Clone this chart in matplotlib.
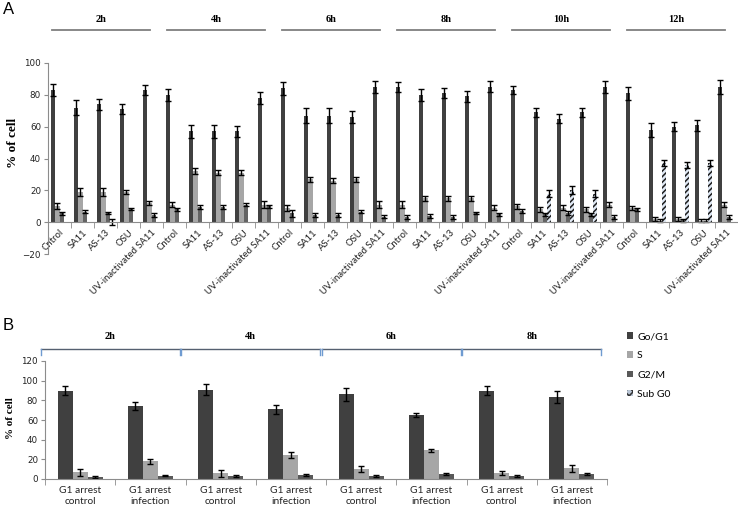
import matplotlib
matplotlib.use('Agg')
import matplotlib.pyplot as plt
from matplotlib.patches import Patch
from matplotlib.lines import Line2D
import numpy as np

# ---- panel A data ----
times_a = ['2h', '4h', '6h', '8h', '10h', '12h']
treatments = ['Cntrol', 'SA11', 'AS-13', 'OSU', 'UV-inactivated SA11']

g0_a = [83, 72, 74, 71, 83,
        80, 57, 57, 57, 78,
        84, 67, 67, 66, 85,
        85, 80, 81, 79, 85,
        83, 69, 65, 69, 85,
        81, 58, 60, 61, 85]
g0_a_err = [3.5, 4.5, 3.5, 3.3, 3,
            3.6, 4.2, 4.2, 3.5, 3.8,
            3.8, 4.5, 4.5, 4, 4,
            3.2, 3.8, 3, 3.5, 3.4,
            2.5, 3, 3, 3, 3.8,
            4, 4.5, 3, 3.5, 4.2]
s_a = [10, 19, 19, 19, 12,
       11, 32, 31, 31, 11,
       9, 27, 26, 27, 11,
       11, 15, 15, 15, 9,
       10, 8, 9, 8, 11,
       9, 2, 2, 1, 11]
s_a_err = [1.8, 2.5, 2.5, 1.5, 1.5,
           1.5, 2, 1.5, 1.5, 2,
           2, 1.5, 1.5, 1.5, 2,
           2, 1.5, 1.5, 1.5, 1.5,
           1.5, 1.5, 1.5, 1.5, 1.5,
           1.2, 1.5, 1, 1, 1.5]
g2m_a = [5.5, 6.5, 5.5, 8, 4.5,
         8, 9.5, 9.5, 11, 10,
         5.5, 4.5, 4.5, 6.5, 3.5,
         3.5, 3.8, 3.5, 5.8, 5,
         7, 5, 6, 5, 3.5,
         8, 1, 1.2, 1, 3.5]
g2m_a_err = [1, 1, 0.6, 0.6, 1.2,
             1, 1, 1.3, 0.8, 1,
             2, 1, 1, 1, 1,
             1.2, 1.2, 1.2, 0.8, 1,
             1, 1, 1.2, 1, 1.2,
             1, 0.8, 0.8, 0.8, 1.2]
subg0_a = [0, 0, 0, 0, 0,
           0, 0, 0, 0, 0,
           0, 0, 0, 0, 0,
           0, 0, 0, 0, 0,
           0, 18, 20, 18, 0,
           0, 37, 36, 37, 0]
subg0_a_err = [0, 0, 1.8, 0, 0,
               0, 0, 0, 0, 0,
               0, 0, 0, 0, 0,
               0, 0, 0, 0, 0,
               0, 2, 2.5, 2, 0,
               0, 2, 2, 2, 0]

# ---- panel B data ----
times_b = ['2h', '4h', '6h', '8h']
conditions_b = ['G1 arrest\ncontrol', 'G1 arrest\ninfection']
g0_b = [90, 74, 91, 71, 86, 65, 90, 83]
g0_b_err = [4.5, 4, 6, 4.5, 7, 2, 5, 6]
s_b = [7, 18, 6, 24, 10, 29, 6, 11]
s_b_err = [3.5, 2.5, 3.5, 3, 3, 2, 2, 3.5]
g2m_b = [2, 3.5, 3, 4, 3, 5, 3, 5]
g2m_b_err = [0.8, 0.8, 0.8, 1.2, 0.8, 1, 1, 1.2]

phase_labels = ['Go/G1', 'S', 'G2/M', 'Sub G0']
c_g0 = '#404040'
c_s = '#a6a6a6'
c_g2m_a = '#636363'
c_g2m_b = '#595959'
c_sub = '#dfe8f4'
axis_col = '#8c8c8c'

plt.rcParams['hatch.linewidth'] = 1.1
fig = plt.figure(figsize=(7.38, 5.08), dpi=100)


def add_bars(ax, x, vals, errs, color, hatch=None):
    vals = np.array(vals, dtype=float)
    errs = np.array(errs, dtype=float)
    if hatch:
        ax.bar(x, vals, width=bw, color=color, hatch=hatch, edgecolor='#1e1e1e', linewidth=0)
    else:
        ax.bar(x, vals, width=bw, color=color, linewidth=0)
    m = errs > 0
    ax.errorbar(x[m], vals[m], yerr=errs[m], fmt='none', ecolor='black',
                elinewidth=1, capsize=2.2, capthick=1)


def style_axis(ax):
    for sp in ['top', 'right']:
        ax.spines[sp].set_visible(False)
    ax.spines['left'].set_color(axis_col)
    ax.spines['bottom'].set_color(axis_col)
    ax.tick_params(axis='y', length=3, color=axis_col, labelsize=6.3, pad=2,
                   labelcolor='#222222')
    ax.tick_params(axis='x', which='major', length=0)
    ax.tick_params(axis='x', which='minor', length=4, color=axis_col)
    for t in ax.get_yticklabels():
        t.set_fontfamily('DejaVu Sans')


# ================= panel A =================
axA = fig.add_axes([48 / 738, 1 - 254 / 508, 690 / 738, 191 / 508])
xa = np.arange(len(g0_a))
bw = 0.19
add_bars(axA, xa - 1.5 * bw, g0_a, g0_a_err, c_g0)
add_bars(axA, xa - 0.5 * bw, s_a, s_a_err, c_s)
add_bars(axA, xa + 0.5 * bw, g2m_a, g2m_a_err, c_g2m_a)
add_bars(axA, xa + 1.5 * bw, subg0_a, subg0_a_err, c_sub, hatch='//////')
axA.set_xlim(-0.5, len(g0_a) - 0.5)
axA.set_ylim(-20, 100)
axA.set_yticks(np.arange(-20, 101, 20))
axA.spines['bottom'].set_position(('data', 0))
axA.set_xticks(xa)
axA.set_xticklabels(treatments * len(times_a), rotation=45, ha='right', va='top',
                    rotation_mode='anchor', fontsize=6.8, family='Lato', color='#222222')
axA.set_xticks(np.arange(-0.5, len(g0_a), 1), minor=True)
style_axis(axA)
axA.tick_params(axis='x', which='major', pad=4)
axA.set_ylabel('% of cell', family='Liberation Serif', fontweight='bold', fontsize=9.5)
axA.yaxis.set_label_coords(-29 / 690, 0.58)

for i, t in enumerate(times_a):
    x0 = 5 * i - 0.33
    x1 = 5 * i + 3.93
    axA.add_line(Line2D([x0, x1], [1.175, 1.175], color='#7f7f7f', lw=1.3,
                        transform=axA.get_xaxis_transform(), clip_on=False))
    axA.text((x0 + x1) / 2, 1.205, t, transform=axA.get_xaxis_transform(),
             ha='center', va='bottom', family='Liberation Serif', fontweight='bold',
             fontsize=7.5)

# ================= panel B =================
axB = fig.add_axes([45 / 738, 1 - 479 / 508, 562 / 738, 118 / 508])
xb = np.arange(len(g0_b))
bw = 0.214
add_bars(axB, xb - bw, g0_b, g0_b_err, c_g0)
add_bars(axB, xb, s_b, s_b_err, c_s)
add_bars(axB, xb + bw, g2m_b, g2m_b_err, c_g2m_b)
axB.set_xlim(-0.5, len(g0_b) - 0.5)
axB.set_ylim(0, 120)
axB.set_yticks(np.arange(0, 121, 20))
axB.set_xticks(xb)
axB.set_xticklabels(conditions_b * len(times_b), fontsize=7.3, family='Lato',
                    color='#222222', linespacing=1.25)
axB.set_xticks(np.arange(-0.5, len(g0_b), 1), minor=True)
style_axis(axB)
axB.tick_params(axis='x', which='major', pad=5)
axB.set_ylabel('% of cell', family='Liberation Serif', fontweight='bold', fontsize=8)
axB.yaxis.set_label_coords(-30 / 562, 0.52)

for i, t in enumerate(times_b):
    x0 = 2 * i - 0.56
    x1 = 2 * i + 1.42
    tr = axB.get_xaxis_transform()
    axB.add_line(Line2D([x0, x1], [1.10, 1.10], color='#556070', lw=1.0,
                        transform=tr, clip_on=False))
    for xe in (x0, x1):
        axB.add_line(Line2D([xe, xe], [1.10, 1.055], color='#6f9bd1', lw=1.0,
                            transform=tr, clip_on=False))
    axB.text((x0 + x1) / 2, 1.17, t, transform=tr, ha='center', va='bottom',
             family='Liberation Serif', fontweight='bold', fontsize=7.5)

handles = [Patch(facecolor=c_g0, linewidth=0),
           Patch(facecolor=c_s, linewidth=0),
           Patch(facecolor=c_g2m_b, linewidth=0),
           Patch(facecolor='#b8c4d4', hatch='xxxx', edgecolor='#333333', linewidth=0)]
fig.legend(handles, phase_labels, loc='upper left', bbox_to_anchor=(622 / 738, 1 - 327 / 508),
           frameon=False, prop={'family': 'Lato', 'size': 7.5}, handlelength=0.6,
           handleheight=0.6, handletextpad=0.35, labelspacing=0.98, borderpad=0)

fig.text(3 / 738, 1 - 2 / 508, 'A', ha='left', va='top', fontsize=12, family='Liberation Sans')
fig.text(3 / 738, 1 - 318 / 508, 'B', ha='left', va='top', fontsize=12, family='Liberation Sans')

fig.savefig('out.png', dpi=100)
